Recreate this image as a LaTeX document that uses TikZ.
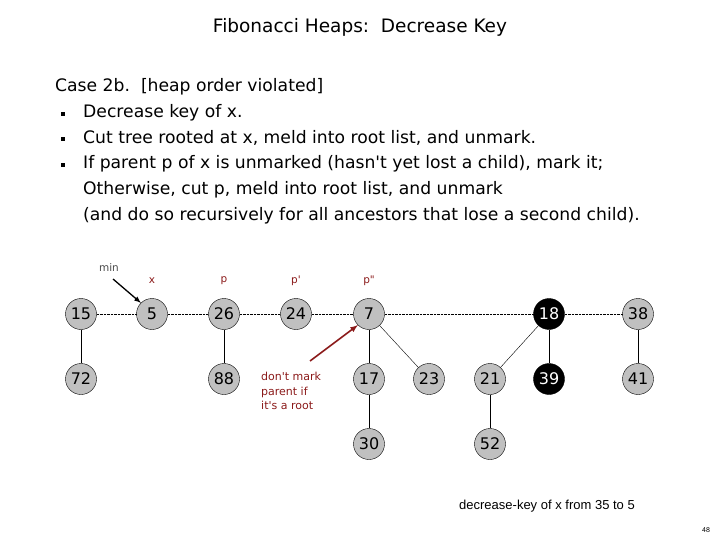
\documentclass[tikz,border=0pt]{standalone}
\usepackage{fontspec}
\setmainfont{DejaVu Sans}
\newfontfamily\arial{Liberation Sans}
\newcommand{\sq}{\textquotesingle}
\definecolor{dred}{HTML}{8B1A1A}
\definecolor{ngray}{HTML}{C0C0C0}
\begin{document}
\begin{tikzpicture}[x=1pt,y=-1pt,
  hn/.style={circle,draw,fill=ngray,minimum size=31pt,inner sep=0pt,font=\fontsize{16}{16}\selectfont},
  bn/.style={hn,fill=black,text=white},
  lab/.style={text=dred,font=\fontsize{10.5}{10.5}\selectfont},
  tree/.style={line width=0.9pt},
  root/.style={densely dotted,thin}]
\useasboundingbox (0,0) rectangle (720,540);
\node at (360,27) {\fontsize{18.5}{18.5}\selectfont Fibonacci Heaps:\ \ Decrease Key};
\begin{scope}[every node/.style={anchor=west,font=\fontsize{17.2}{17.2}\selectfont,inner sep=0pt}]
\node at (55,87) {Case 2b.\ \ [heap order violated]};
\node at (83,113) {Decrease key of x.};
\node at (83,138) {Cut tree rooted at x, meld into root list, and unmark.};
\node at (83,164) {If parent p of x is unmarked (hasn\sq t yet lost a child), mark it;};
\node at (83,190) {Otherwise, cut p, meld into root list, and unmark};
\node at (83,216) {(and do so recursively for all ancestors that lose a second child).};
\foreach \y in {113,138,164} \fill (63,\y) ++(-2,-1) rectangle ++(4,4);
\end{scope}
\node[hn] (n15) at (81,314) {15};
\node[hn] (n5) at (152,314) {5};
\node[hn] (n26) at (224,314) {26};
\node[hn] (n24) at (296,314) {24};
\node[hn] (n7) at (369,314) {7};
\node[bn] (n18) at (549,314) {18};
\node[hn] (n38) at (638,314) {38};
\node[hn] (n72) at (81,379) {72};
\node[hn] (n88) at (224,379) {88};
\node[hn] (n17) at (369,379) {17};
\node[hn] (n23) at (429,379) {23};
\node[hn] (n21) at (490,379) {21};
\node[bn] (n39) at (549,379) {39};
\node[hn] (n41) at (638,379) {41};
\node[hn] (n30) at (369,444) {30};
\node[hn] (n52) at (490,444) {52};
\draw[root] (n15)--(n5) (n5)--(n26) (n26)--(n24) (n24)--(n7) (n7)--(n18) (n18)--(n38);
\draw[tree] (n15)--(n72) (n26)--(n88) (n7)--(n17) (n17)--(n30)
  (n18)--(n39) (n21)--(n52) (n38)--(n41);
\draw[thin] (n7)--(n23) (n18)--(n21);
\node[lab] at (152,281) {x};
\node[lab] at (224,281) {p};
\node[lab] at (296,281) {p\sq};
\node[lab] at (369,281) {p\textquotedbl};
\node[font=\fontsize{10.5}{10.5}\selectfont,text=black!70] (min) at (109,268) {min};
\coordinate (ms) at (113,279);
\draw[-latex,line width=1.3pt] (ms) -- (n5.north west);
\node[lab,anchor=north west,align=left,inner sep=0pt,font=\fontsize{11}{14.5}\selectfont] (dm) at (261,372) {don\sq t mark\\parent if\\it\sq s a root};
\coordinate (rs) at (310,361);
\draw[-latex,line width=1.6pt,dred] (rs) -- (n7.south west);
\node[font=\arial\fontsize{13}{13}\selectfont] at (547,506) {decrease-key of x from 35 to 5};
\node[font=\arial\fontsize{7}{7}\selectfont] at (706,530) {48};
\end{tikzpicture}
\end{document}
